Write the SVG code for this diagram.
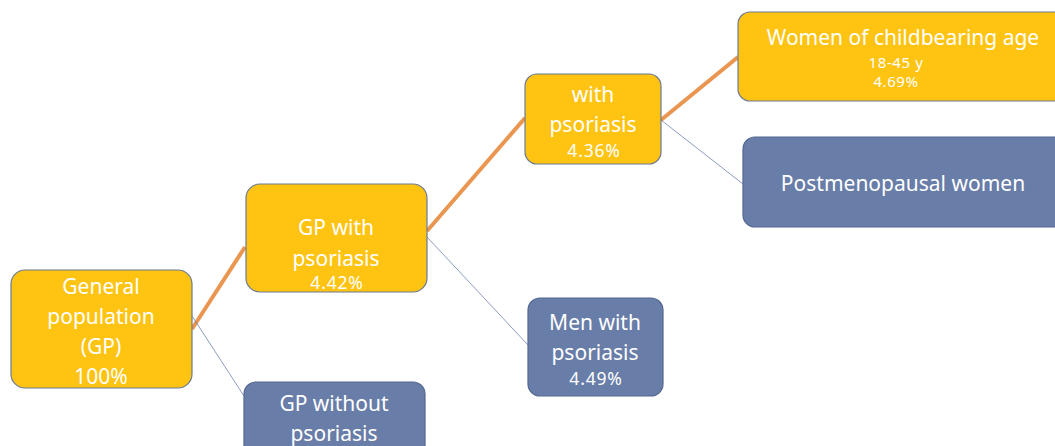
<svg xmlns="http://www.w3.org/2000/svg" width="1055" height="446" viewBox="0 0 1055 446">
<style>
.y{fill:#FFC312;stroke:#6B7A96;stroke-width:1.2}
.b{fill:#687DA8;stroke:#55688F;stroke-width:1.2}
text{font-family:"Noto Sans","Open Sans",sans-serif;fill:#fff;text-anchor:middle}
.l{font-size:21px}
.s{font-size:17.5px;letter-spacing:0.8px}
.xs{font-size:15px;letter-spacing:0.6px}
.o{stroke:#EB9650;stroke-width:4;fill:none}
.t{stroke:#6F82AE;stroke-width:0.8;fill:none}
</style>
<rect width="1055" height="446" fill="#fff"/>
<g id="connectors">
<line class="o" x1="192" y1="329" x2="245" y2="247"/>
<line class="t" x1="192" y1="316" x2="244" y2="396"/>
<line class="o" x1="427" y1="231" x2="525" y2="118"/>
<line class="t" x1="427" y1="237" x2="528" y2="345"/>
<line class="o" x1="661" y1="120" x2="738" y2="57"/>
<line class="t" x1="661" y1="120" x2="743" y2="184"/>
</g>
<g id="n1"><rect class="y" x="11" y="270" width="181" height="118" rx="14"/>
<text class="l" x="101" y="294">General</text>
<text class="l" x="101" y="324">population</text>
<text class="l" x="101" y="354">(GP)</text>
<text class="l" x="101" y="384">100%</text></g>
<g id="n2"><rect class="y" x="246" y="184" width="181" height="108" rx="14"/>
<text class="l" x="336" y="235">GP with</text>
<text class="l" x="336" y="266">psoriasis</text>
<text class="s" x="337" y="289">4.42%</text></g>
<g id="n3"><rect class="b" x="244" y="382" width="181" height="80" rx="12"/>
<text class="l" x="334" y="411">GP without</text>
<text class="l" x="334" y="441">psoriasis</text></g>
<g id="n4"><rect class="y" x="525" y="74" width="136" height="90" rx="12"/>
<text class="l" x="593" y="102">with</text>
<text class="l" x="593" y="132">psoriasis</text>
<text class="s" x="594" y="157">4.36%</text></g>
<g id="n5"><rect class="b" x="528" y="298" width="135" height="98" rx="12"/>
<text class="l" x="595" y="330">Men with</text>
<text class="l" x="595" y="360">psoriasis</text>
<text class="s" x="596" y="385">4.49%</text></g>
<g id="n6"><rect class="y" x="738" y="12" width="330" height="89" rx="12"/>
<text class="l" x="903" y="45">Women of childbearing age</text>
<text class="xs" x="896" y="68">18-45 y</text>
<text class="xs" x="896" y="87">4.69%</text></g>
<g id="n7"><rect class="b" x="743" y="137" width="325" height="90" rx="12"/>
<text class="l" x="903" y="191">Postmenopausal women</text></g>
</svg>
